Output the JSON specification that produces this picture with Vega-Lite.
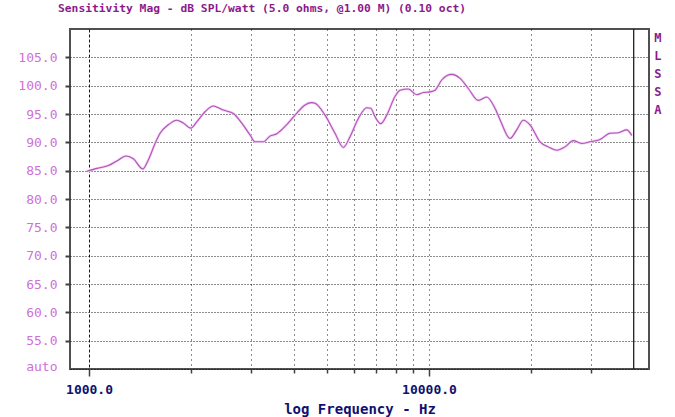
{
  "$schema": "https://vega.github.io/schema/vega-lite/v6.json",
  "width": 579,
  "height": 340,
  "autosize": {"type": "none"},
  "padding": {"left": 70, "top": 29, "right": 26, "bottom": 48},
  "background": "white",
  "config": {"view": {"stroke": "#505050", "strokeWidth": 2}},
  "title": {
    "text": "Sensitivity Mag - dB SPL/watt (5.0 ohms, @1.00 M) (0.10 oct)",
    "anchor": "start", "frame": "group", "dx": -12, "offset": 5, "baseline": "alphabetic",
    "font": "DejaVu Sans Mono", "fontSize": 11.3, "fontWeight": "bold", "color": "#8b1a8b"
  },
  "datasets": {
    "curve": [
      {"f": 985, "db": 84.9}, {"f": 1054, "db": 85.4}, {"f": 1140, "db": 85.9}, {"f": 1207, "db": 86.7},
      {"f": 1285, "db": 87.6}, {"f": 1350, "db": 87.1}, {"f": 1439, "db": 85.3}, {"f": 1494, "db": 86.9},
      {"f": 1564, "db": 89.8}, {"f": 1618, "db": 91.6}, {"f": 1711, "db": 93.1}, {"f": 1811, "db": 93.9},
      {"f": 1894, "db": 93.4}, {"f": 1991, "db": 92.5}, {"f": 2074, "db": 93.6}, {"f": 2194, "db": 95.4},
      {"f": 2321, "db": 96.4}, {"f": 2401, "db": 96.1}, {"f": 2483, "db": 95.7}, {"f": 2657, "db": 95.1},
      {"f": 2813, "db": 93.4}, {"f": 2976, "db": 91.3}, {"f": 3078, "db": 90.1}, {"f": 3255, "db": 90.1},
      {"f": 3406, "db": 91.1}, {"f": 3565, "db": 91.5}, {"f": 3771, "db": 92.8}, {"f": 4036, "db": 94.8},
      {"f": 4318, "db": 96.6}, {"f": 4519, "db": 97.0}, {"f": 4621, "db": 96.9}, {"f": 4944, "db": 94.8},
      {"f": 5290, "db": 91.6}, {"f": 5598, "db": 89.1}, {"f": 5858, "db": 91.0}, {"f": 6196, "db": 94.2},
      {"f": 6559, "db": 96.1}, {"f": 6739, "db": 96.0}, {"f": 6938, "db": 94.5}, {"f": 7211, "db": 93.3},
      {"f": 7510, "db": 94.8}, {"f": 7943, "db": 98.1}, {"f": 8216, "db": 99.2}, {"f": 8692, "db": 99.4},
      {"f": 9201, "db": 98.4}, {"f": 9622, "db": 98.8}, {"f": 10068, "db": 98.9}, {"f": 10415, "db": 99.2},
      {"f": 10899, "db": 101.0}, {"f": 11662, "db": 102.0}, {"f": 12343, "db": 101.3}, {"f": 13049, "db": 99.5},
      {"f": 13964, "db": 97.4}, {"f": 14778, "db": 98.0}, {"f": 15637, "db": 96.0}, {"f": 16176, "db": 94.0},
      {"f": 17311, "db": 90.7}, {"f": 18113, "db": 92.2}, {"f": 18940, "db": 93.9}, {"f": 19819, "db": 93.1},
      {"f": 21209, "db": 90.1}, {"f": 22434, "db": 89.2}, {"f": 23747, "db": 88.6}, {"f": 25119, "db": 89.2},
      {"f": 26575, "db": 90.3}, {"f": 28130, "db": 89.8}, {"f": 29759, "db": 90.1}, {"f": 31840, "db": 90.5},
      {"f": 34069, "db": 91.6}, {"f": 36054, "db": 91.7}, {"f": 38144, "db": 92.2}, {"f": 39500, "db": 91.2}
    ]
  },
  "layer": [
    {
      "data": {"name": "curve"},
      "mark": {"type": "line", "color": "#f0d0f2", "strokeWidth": 2.6, "interpolate": "monotone"},
      "encoding": {
        "x": {
          "field": "f", "type": "quantitative",
          "scale": {"type": "log", "domain": [879, 44370], "nice": false},
          "axis": {
            "values": [1000, 2000, 3000, 4000, 5000, 6000, 7000, 8000, 9000, 10000, 20000, 30000],
            "title": "log Frequency - Hz",
            "labelExpr": "datum.value == 1000 || datum.value == 10000 ? format(datum.value, '.1f') : ''",
            "domain": false,
            "grid": true, "gridColor": "#000000", "gridOpacity": 0.9,
            "gridDash": {"condition": {"test": "datum.value == 1000", "value": [3, 2]}, "value": [1, 4]},
            "ticks": true, "tickColor": "#404040", "tickWidth": 1.5,
            "tickSize": {"condition": {"test": "datum.value == 1000 || datum.value == 10000", "value": 7}, "value": 4},
            "labelFont": "DejaVu Sans Mono", "labelFontSize": 13, "labelFontWeight": "bold", "labelColor": "#101070",
            "labelBaseline": "middle", "labelPadding": 13, "labelFlush": false, "labelOverlap": false,
            "titleFont": "DejaVu Sans Mono", "titleFontSize": 14, "titleFontWeight": "bold", "titleColor": "#101070",
            "titleBaseline": "alphabetic", "titleY": 44
          }
        },
        "y": {
          "field": "db", "type": "quantitative",
          "scale": {"domain": [50, 110], "nice": false, "zero": false},
          "axis": {
            "values": [50, 55, 60, 65, 70, 75, 80, 85, 90, 95, 100, 105],
            "title": null,
            "labelExpr": "datum.value == 50 ? 'auto' : format(datum.value, '.1f')",
            "domain": false, "labelOverlap": false,
            "grid": true, "gridColor": "#000000", "gridDash": [1, 2], "gridOpacity": 0.9,
            "tickSize": 5, "tickWidth": 2, "tickColor": "#404040",
            "tickOpacity": {"condition": {"test": "datum.value == 50", "value": 0}, "value": 1},
            "labelOffset": {"condition": {"test": "datum.value == 50", "value": -3}, "value": 0},
            "labelFont": "DejaVu Sans Mono", "labelFontSize": 13, "labelColor": "#d070d8",
            "labelPadding": 8
          }
        }
      }
    },
    {
      "data": {"name": "curve"},
      "mark": {"type": "line", "color": "#b450bc", "strokeWidth": 1.1, "interpolate": "monotone"},
      "encoding": {
        "x": {"field": "f", "type": "quantitative"},
        "y": {
          "field": "db", "type": "quantitative",
          "axis": {
            "values": [50, 55, 60, 65, 70, 75, 80, 85, 90, 95, 100, 105],
            "title": null,
            "labelExpr": "datum.value == 50 ? 'auto' : format(datum.value, '.1f')",
            "domain": false, "labelOverlap": false,
            "grid": true, "gridColor": "#000000", "gridDash": [1, 2], "gridOpacity": 0.9,
            "tickSize": 5, "tickWidth": 2, "tickColor": "#404040",
            "tickOpacity": {"condition": {"test": "datum.value == 50", "value": 0}, "value": 1},
            "labelOffset": {"condition": {"test": "datum.value == 50", "value": -3}, "value": 0},
            "labelFont": "DejaVu Sans Mono", "labelFontSize": 13, "labelColor": "#d070d8",
            "labelPadding": 8
          }
        }
      }
    },
    {
      "data": {"values": [{"edge": 40000}]},
      "mark": {"type": "rule", "color": "#202020", "strokeWidth": 1.3},
      "encoding": {"x": {"field": "edge", "type": "quantitative"}}
    },
    {
      "data": {"values": [{"brand": "M\nL\nS\nS\nA", "fx": 47150, "dy": 109.3}]},
      "mark": {"type": "text", "lineBreak": "\n", "lineHeight": 18, "baseline": "top", "align": "center",
               "font": "DejaVu Sans Mono", "fontSize": 12, "fontWeight": "bold", "color": "#8b1a8b"},
      "encoding": {
        "x": {"field": "fx", "type": "quantitative"},
        "y": {
          "field": "dy", "type": "quantitative",
          "axis": {
            "values": [50, 55, 60, 65, 70, 75, 80, 85, 90, 95, 100, 105],
            "title": null,
            "labelExpr": "datum.value == 50 ? 'auto' : format(datum.value, '.1f')",
            "domain": false, "labelOverlap": false,
            "grid": true, "gridColor": "#000000", "gridDash": [1, 2], "gridOpacity": 0.9,
            "tickSize": 5, "tickWidth": 2, "tickColor": "#404040",
            "tickOpacity": {"condition": {"test": "datum.value == 50", "value": 0}, "value": 1},
            "labelOffset": {"condition": {"test": "datum.value == 50", "value": -3}, "value": 0},
            "labelFont": "DejaVu Sans Mono", "labelFontSize": 13, "labelColor": "#d070d8",
            "labelPadding": 8
          }
        },
        "text": {"field": "brand"}
      }
    }
  ]
}
